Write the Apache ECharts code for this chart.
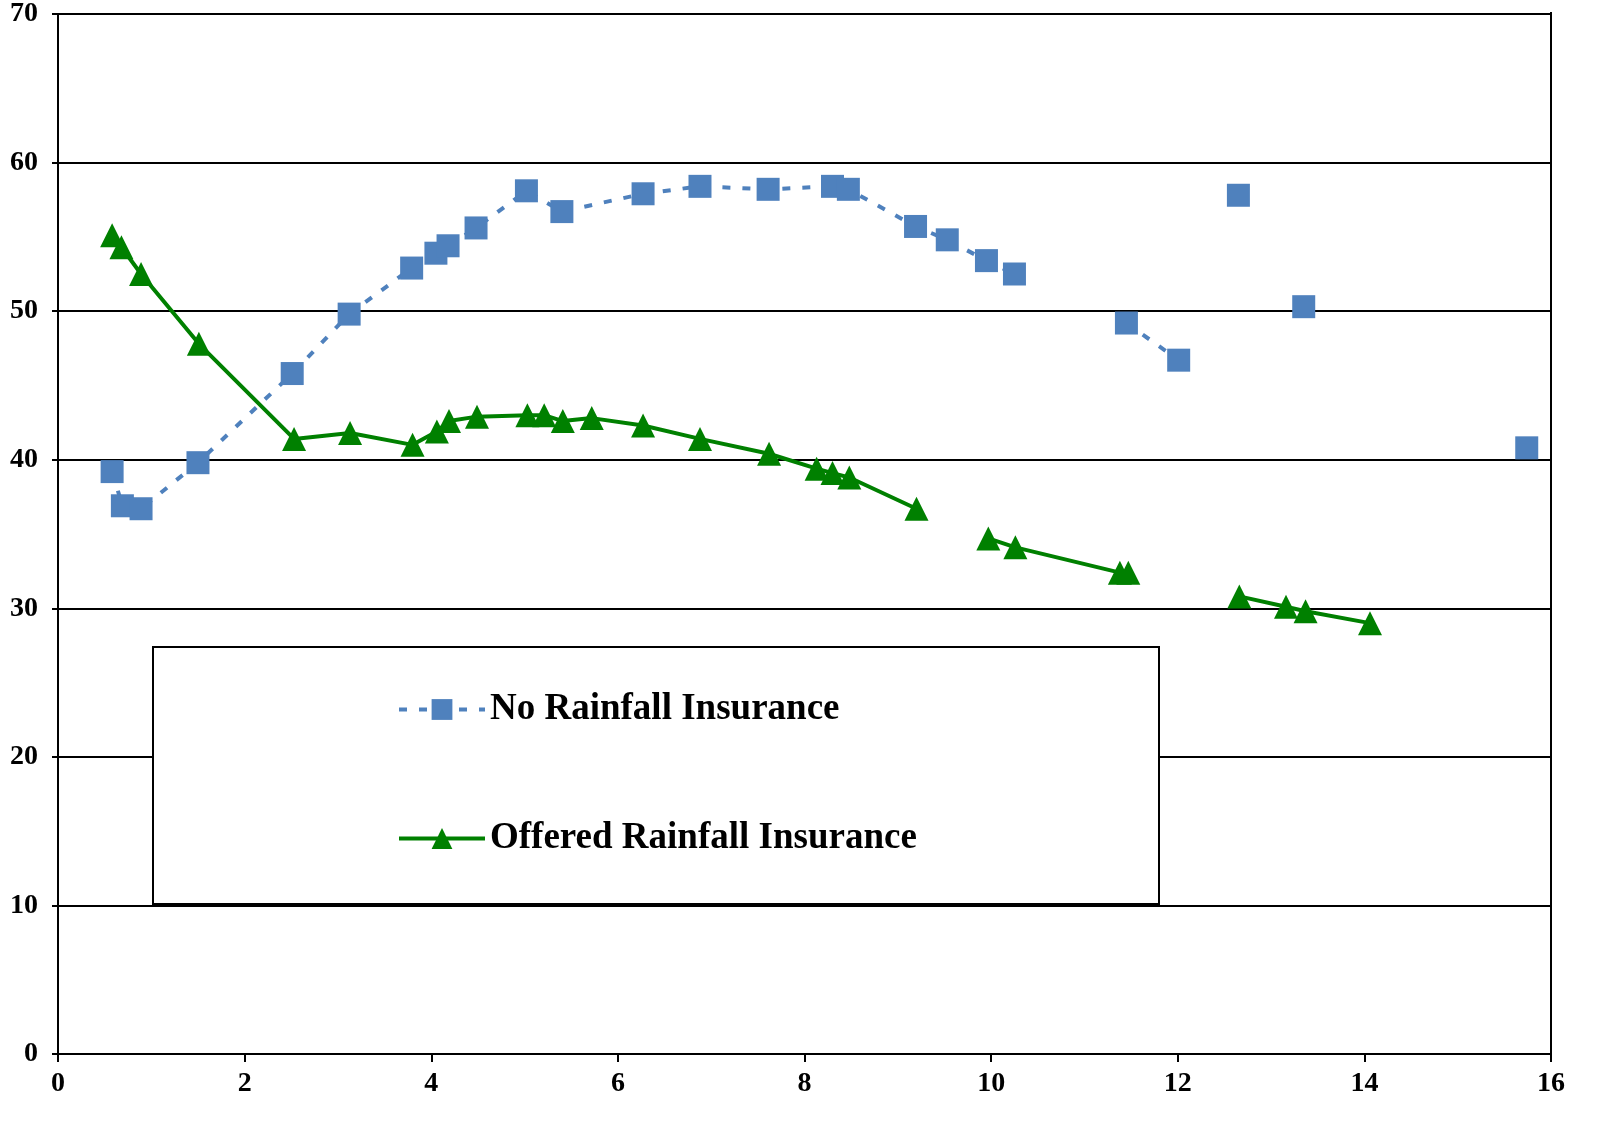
<!DOCTYPE html>
<html>
<head>
<meta charset="utf-8">
<script src="https://cdn.jsdelivr.net/npm/echarts@6/dist/echarts.min.js"></script>
<style>html,body{margin:0;padding:0;background:#fff}#main{width:1606px;height:1148px}</style>
</head>
<body>
<div id="main"></div>
<script>
// No Rainfall Insurance (null = break in line)
const noInsX = [0.58,0.69,0.89,1.50,2.51,3.12,3.79,4.05,4.18,4.48,5.02,5.40,6.27,6.88,7.61,8.30,8.47,9.19,9.53,9.95,10.25,null,11.45,12.01,null,12.65,null,13.35,null,15.74];
const noInsY = [39.2,36.9,36.7,39.8,45.8,49.8,52.9,53.9,54.4,55.6,58.1,56.7,57.9,58.4,58.2,58.4,58.2,55.7,54.8,53.4,52.5,null,49.2,46.7,null,57.8,null,50.3,null,40.8];
// Offered Rainfall Insurance
const offX = [0.58,0.68,0.89,1.51,2.53,3.13,3.80,4.06,4.19,4.49,5.03,5.21,5.41,5.72,6.27,6.88,7.62,8.13,8.30,8.48,9.20,null,9.97,10.26,11.38,11.47,null,12.66,13.16,13.37,14.06];
const offY = [55.1,54.3,52.5,47.8,41.4,41.8,41.0,41.9,42.6,42.9,43.0,43.0,42.6,42.8,42.3,41.4,40.4,39.4,39.1,38.8,36.7,null,34.7,34.1,32.4,32.4,null,30.8,30.1,29.8,29.0];

const pairs = (xs, ys) => xs.map((x, i) => x === null ? [null, null] : [x, ys[i]]);
const font = 'Liberation Serif';

const chart = echarts.init(document.getElementById('main'));
chart.setOption({
  animation: false,
  grid: { left: 58, right: 55, top: 12, bottom: 94 },
  xAxis: {
    type: 'value', min: 0, max: 16, interval: 2,
    axisLine: { lineStyle: { color: '#000', width: 2 } },
    axisTick: { show: true, length: 8, lineStyle: { color: '#000', width: 2 } },
    axisLabel: { color: '#000', fontFamily: font, fontWeight: 'bold', fontSize: 28, margin: 16 },
    splitLine: { show: false }
  },
  yAxis: {
    type: 'value', min: 0, max: 70, interval: 10,
    axisLine: { show: true, lineStyle: { color: '#000', width: 2 } },
    axisTick: { show: true, length: 6, lineStyle: { color: '#000', width: 2 } },
    axisLabel: { color: '#000', fontFamily: font, fontWeight: 'bold', fontSize: 28, margin: 20 },
    splitLine: { lineStyle: { color: '#000', width: 2 } }
  },
  legend: {
    orient: 'vertical', left: 392, top: 686, itemGap: 92, itemWidth: 86, itemHeight: 26,
    textStyle: { color: '#000', fontFamily: font, fontWeight: 'bold', fontSize: 37 },
    lineStyle: { width: 4 },
    data: ['No Rainfall Insurance', 'Offered Rainfall Insurance']
  },
  graphic: [
    { type: 'rect', left: 152, top: 646, shape: { width: 1006, height: 257 },
      style: { fill: '#fff', stroke: '#000', lineWidth: 2 }, z: 1 },
    { type: 'line', shape: { x1: 1551, y1: 12, x2: 1551, y2: 1054 },
      style: { stroke: '#000', lineWidth: 2 } }
  ],
  series: [
    {
      name: 'No Rainfall Insurance', type: 'line', data: pairs(noInsX, noInsY),
      connectNulls: false, symbol: 'rect', symbolSize: 23,
      itemStyle: { color: '#4f81bd' },
      lineStyle: { color: '#4f81bd', width: 4, type: [8, 12] }, z: 3
    },
    {
      name: 'Offered Rainfall Insurance', type: 'line', data: pairs(offX, offY),
      connectNulls: false, symbol: 'triangle', symbolSize: 24,
      itemStyle: { color: '#008000' },
      lineStyle: { color: '#008000', width: 4 }, z: 3
    }
  ]
});
</script>
</body>
</html>
